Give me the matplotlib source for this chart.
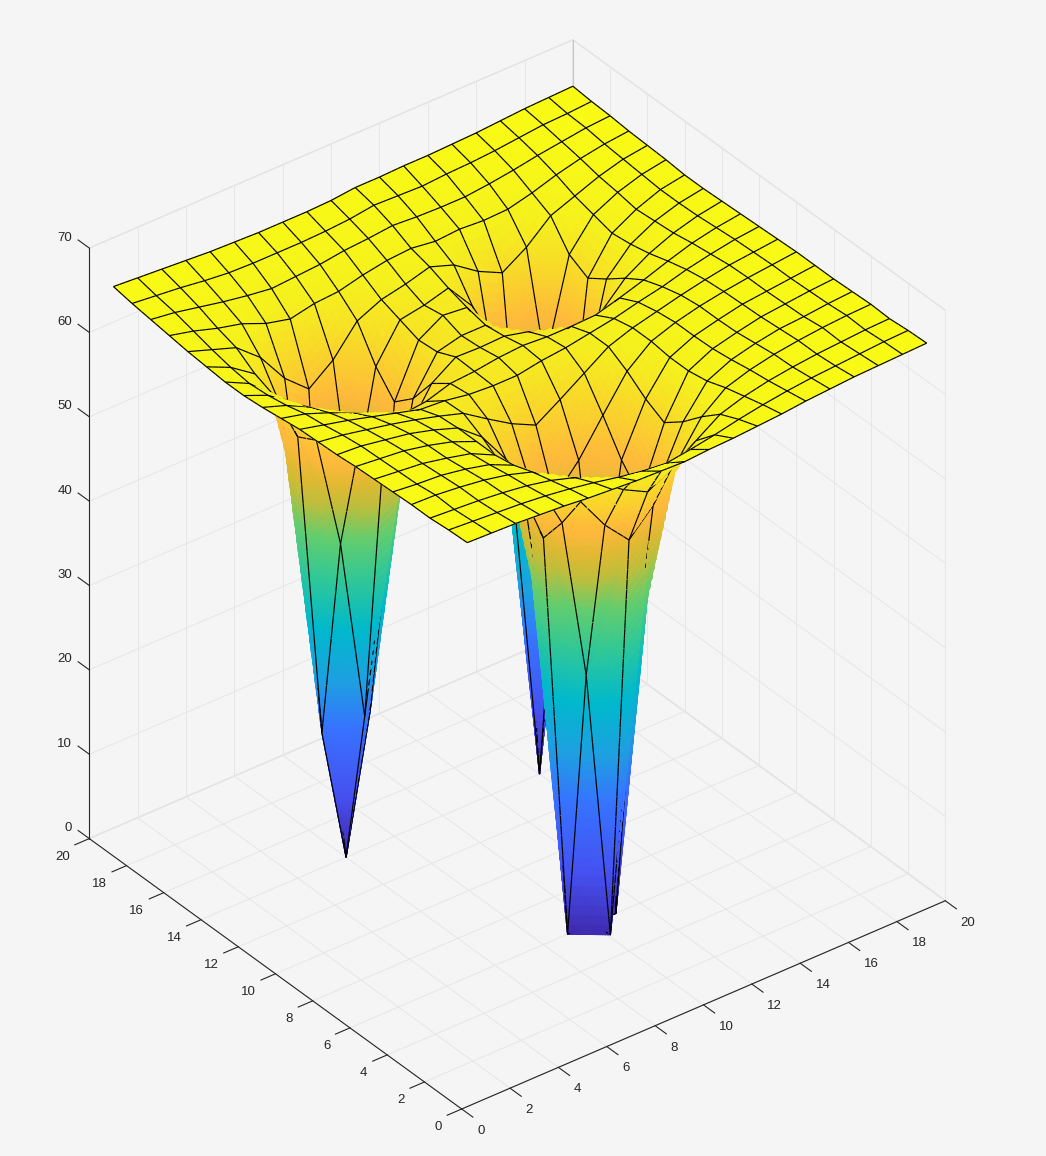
import numpy as np
import matplotlib
matplotlib.use('Agg')
import matplotlib.pyplot as plt
from matplotlib.colors import LinearSegmentedColormap, Normalize
from mpl_toolkits.mplot3d import proj3d
from mpl_toolkits.mplot3d.art3d import Poly3DCollection

# Grid positions
x_vals = list(range(1, 21))
y_vals = list(range(1, 21))

# Heights, one row per y = 1..20, columns x = 1..20
z_rows = [
    [64.3, 64.2, 64.1, 63.9, 63.7, 63.4, 63.2, 63.0, 62.9, 62.8, 63.0, 63.1, 63.3, 63.5, 63.8, 64.0, 64.2, 64.3, 64.4, 64.5],
    [64.2, 64.0, 63.8, 63.6, 63.3, 62.9, 62.4, 61.8, 61.3, 61.0, 61.4, 61.9, 62.5, 63.0, 63.4, 63.7, 63.9, 64.1, 64.3, 64.4],
    [64.0, 63.8, 63.6, 63.3, 62.9, 62.3, 61.4, 59.5, 57.5, 56.0, 57.6, 59.6, 61.5, 62.4, 63.0, 63.4, 63.7, 63.9, 64.1, 64.2],
    [64.0, 63.9, 63.6, 63.2, 62.6, 61.7, 59.5, 55.7, 51.7, 48.7, 51.6, 55.6, 59.6, 61.8, 62.7, 63.3, 63.7, 64.0, 64.2, 64.3],
    [63.9, 63.6, 63.4, 62.9, 62.2, 60.9, 57.3, 51.6, 32.3, 0.3, 32.0, 51.4, 57.4, 61.0, 62.3, 63.0, 63.5, 63.7, 64.0, 64.2],
    [63.8, 63.5, 63.2, 62.6, 61.9, 60.5, 55.6, 48.2, 0.0, 0.0, 0.0, 48.2, 55.7, 60.6, 62.0, 62.7, 63.3, 63.6, 63.9, 64.1],
    [63.7, 63.4, 63.1, 62.5, 61.7, 60.5, 56.7, 50.7, 31.4, 0.0, 31.5, 50.9, 56.9, 60.6, 61.9, 62.6, 63.2, 63.5, 63.8, 64.1],
    [63.5, 63.3, 62.8, 62.3, 61.5, 60.5, 58.2, 54.3, 50.2, 47.3, 50.5, 54.6, 58.6, 60.9, 61.9, 62.6, 63.1, 63.5, 63.8, 64.1],
    [63.4, 63.0, 62.4, 61.8, 61.1, 60.3, 59.4, 57.5, 55.7, 54.3, 56.1, 58.0, 59.9, 60.9, 61.6, 62.3, 62.9, 63.4, 63.7, 64.0],
    [63.3, 62.6, 61.9, 61.1, 60.3, 59.5, 59.3, 58.8, 58.6, 58.6, 59.1, 59.4, 59.9, 60.4, 61.1, 61.7, 62.5, 63.1, 63.6, 63.9],
    [63.0, 62.3, 61.2, 59.9, 58.6, 57.3, 57.6, 58.5, 58.7, 59.1, 59.3, 59.1, 59.1, 59.2, 60.0, 60.9, 61.9, 62.8, 63.4, 63.8],
    [62.7, 61.7, 60.2, 57.4, 53.2, 50.9, 52.5, 56.9, 58.8, 58.7, 58.8, 58.1, 56.0, 55.0, 56.7, 59.5, 61.2, 62.4, 63.2, 63.7],
    [62.5, 61.3, 59.2, 53.5, 40.0, 18.3, 39.0, 53.5, 57.8, 58.5, 58.5, 55.8, 46.0, 32.0, 46.0, 57.8, 60.7, 62.2, 63.1, 63.6],
    [62.5, 61.1, 58.5, 52.3, 16.0, 0.0, 16.2, 51.5, 57.6, 59.3, 59.0, 54.5, 32.0, 0.0, 32.0, 56.3, 60.4, 62.0, 63.1, 63.6],
    [62.7, 61.4, 59.4, 54.8, 39.8, 16.6, 39.3, 54.1, 58.4, 58.9, 59.7, 56.3, 46.0, 32.0, 46.0, 57.5, 61.0, 62.4, 63.3, 63.8],
    [62.9, 61.9, 60.9, 58.5, 54.8, 52.3, 54.5, 57.9, 59.2, 59.8, 60.6, 59.6, 57.6, 56.2, 58.0, 60.5, 61.6, 62.7, 63.5, 63.9],
    [63.2, 62.5, 61.6, 60.9, 59.7, 59.0, 59.6, 59.8, 60.5, 61.0, 61.2, 60.8, 61.0, 60.8, 60.9, 61.6, 62.5, 63.2, 63.7, 64.0],
    [63.5, 63.1, 62.5, 61.9, 61.4, 61.0, 61.2, 61.4, 61.8, 62.0, 62.3, 62.1, 62.0, 62.0, 62.3, 62.7, 63.2, 63.6, 64.0, 64.2],
    [63.8, 63.5, 63.2, 62.8, 62.5, 62.4, 62.4, 62.4, 62.5, 62.7, 63.1, 63.0, 62.9, 63.1, 63.2, 63.4, 63.7, 64.0, 64.1, 64.3],
    [64.2, 64.0, 63.8, 63.6, 63.4, 63.3, 63.2, 63.2, 63.2, 63.3, 63.6, 63.6, 63.7, 63.7, 63.8, 63.9, 64.1, 64.3, 64.4, 64.5],
]

# Tick labels
xy_ticks = [0, 2, 4, 6, 8, 10, 12, 14, 16, 18, 20]
z_ticks = [0, 10, 20, 30, 40, 50, 60, 70]

# Colour against height, as seen on the well walls
color_z = [0, 8, 17, 23, 29.5, 36, 41, 45, 48, 51, 55, 60, 64.5]
color_rgb = ['#3e26a8', '#4650f0', '#3773ff', '#1ea0e1', '#00b9cd', '#32c896', '#64cd6e',
             '#bebe3c', '#e1b932', '#ffb93c', '#fad22d', '#f5f01e', '#f9fb14']

plt.rcParams['font.family'] = ['Liberation Sans', 'DejaVu Sans']
plt.rcParams['font.size'] = 9.5

W, H = 1046, 1156
BG = '#f5f5f5'
INK = '#262626'
GRID = '#e6e6e6'
ELEV, AZIM = 34.0, -127.6
BOX = (1, 1, 1.167)

fig = plt.figure(figsize=(W / 100, H / 100), dpi=100, facecolor=BG)
ax = fig.add_axes([-0.2, -0.1, 1400 / W, 1400 / H], projection='3d', proj_type='ortho')
ax.view_init(elev=ELEV, azim=AZIM)
ax.set_xlim(0, 20)
ax.set_ylim(0, 20)
ax.set_zlim(0, 70)
ax.set_box_aspect(BOX, zoom=1.0)
ax.patch.set_visible(False)


def to_pixels(x, y, z):
    ax.apply_aspect()
    xp, yp, _ = proj3d.proj_transform(x, y, z, ax.get_proj())
    return ax.transData.transform((xp, yp))


# Fit the axes box onto the corners of the box in the picture
width = to_pixels(20, 0, 0)[0] - to_pixels(0, 20, 0)[0]
ax.set_box_aspect(BOX, zoom=(945.3 - 89.3) / width)
p0 = to_pixels(0, 0, 0)
pos = ax.get_position(original=True)
ax.set_position([pos.x0 + (461.7 - p0[0]) / W, pos.y0 + ((H - 1109) - p0[1]) / H, pos.width, pos.height])

cmap = LinearSegmentedColormap.from_list('walls', [(z / color_z[-1], c) for z, c in zip(color_z, color_rgb)], N=512)
norm = Normalize(0, color_z[-1])

Z = np.array(z_rows)
X = np.array(x_vals, dtype=float)
Y = np.array(y_vals, dtype=float)

polys = []
face = []
edge = []

# Cells are cut into small pieces so the colour can run across them.
# Each cell folds along the same diagonal, as two triangles.
for j in range(len(Y) - 1):
    for i in range(len(X) - 1):
        q = Z[j:j + 2, i:i + 2]
        n = int(np.clip(np.ceil((q.max() - q.min()) / 1.2), 4, 40))
        s = np.linspace(0, 1, n + 1)
        u, v = np.meshgrid(s, s)
        zz = np.where(u + v <= 1,
                      q[0, 0] + u * (q[0, 1] - q[0, 0]) + v * (q[1, 0] - q[0, 0]),
                      q[1, 1] + (1 - u) * (q[1, 0] - q[1, 1]) + (1 - v) * (q[0, 1] - q[1, 1]))
        xx = X[i] + u
        yy = Y[j] + v
        for a in range(n):
            for b in range(n):
                p = [(xx[a, b], yy[a, b], zz[a, b]), (xx[a, b + 1], yy[a, b + 1], zz[a, b + 1]),
                     (xx[a + 1, b + 1], yy[a + 1, b + 1], zz[a + 1, b + 1]), (xx[a + 1, b], yy[a + 1, b], zz[a + 1, b])]
                c = cmap(norm(zz[a:a + 2, b:b + 2].mean()))
                polys.append(p)
                face.append(c)
                edge.append(c)

# Mesh lines: moved a little toward the viewer so they sort above their own cells
el = np.radians(ELEV)
az = np.radians(AZIM)
eps = 0.016
off = np.array([np.cos(el) * np.cos(az) * 20, np.cos(el) * np.sin(az) * 20, np.sin(el) * 70 / BOX[2]]) * eps


def add_line(p, q):
    m = int(np.clip(np.ceil(abs(p[2] - q[2]) / 1.2), 4, 40))
    t = np.linspace(0, 1, m + 1)
    pts = np.outer(1 - t, p) + np.outer(t, q) + off
    for k in range(m):
        polys.append([tuple(pts[k]), tuple(pts[k + 1])])
        face.append((0, 0, 0, 1))
        edge.append((0, 0, 0, 1))


for j in range(len(Y)):
    for i in range(len(X)):
        here = np.array([X[i], Y[j], Z[j, i]])
        if i < len(X) - 1:
            add_line(here, np.array([X[i + 1], Y[j], Z[j, i + 1]]))
        if j < len(Y) - 1:
            add_line(here, np.array([X[i], Y[j + 1], Z[j + 1, i]]))

surf = Poly3DCollection(polys, facecolors=face, edgecolors=edge, linewidths=0.85, zsort='average')
ax.add_collection3d(surf)

ax.set_xticks([])
ax.set_yticks([])
ax.set_zticks([])

for axis in (ax.xaxis, ax.yaxis, ax.zaxis):
    axis.set_pane_color((0.96, 0.96, 0.96, 1))
    axis.pane.set_edgecolor('#e0e0e0')
    axis.line.set_visible(False)

# Grid on the floor and the two back walls
for t in xy_ticks:
    ax.plot([t, t], [0, 20], [0, 0], color=GRID, lw=0.7, zorder=1)
    ax.plot([0, 20], [t, t], [0, 0], color=GRID, lw=0.7, zorder=1)
    ax.plot([t, t], [20, 20], [0, 70], color=GRID, lw=0.7, zorder=1)
    ax.plot([20, 20], [t, t], [0, 70], color=GRID, lw=0.7, zorder=1)
for t in z_ticks:
    ax.plot([0, 20], [20, 20], [t, t], color=GRID, lw=0.7, zorder=1)
    ax.plot([20, 20], [0, 20], [t, t], color=GRID, lw=0.7, zorder=1)
ax.plot([20, 20], [20, 20], [0, 70], color='#c8c8c8', lw=0.8, zorder=1.5)

# The three axis lines
ax.plot([0, 20], [0, 0], [0, 0], color=INK, lw=0.8, zorder=2)
ax.plot([0, 0], [0, 20], [0, 0], color=INK, lw=0.8, zorder=2)
ax.plot([0, 0], [20, 20], [0, 70], color=INK, lw=0.8, zorder=2)


def label(x, y, z, text, ha):
    px, py = to_pixels(x, y, z)
    fig.text(px / W, py / H, text, ha=ha, va='center', color=INK)


# Ticks and their labels stand off the axes the way they do in the picture
for t in xy_ticks:
    ax.plot([t, t], [0, -0.6], [0, 0], color=INK, lw=0.8, zorder=2)
    ax.plot([0, -0.6], [t, t], [0, 0], color=INK, lw=0.8, zorder=2)
    label(t - 0.38, -1.325, 0, str(t), 'left')
    label(-1.16, t - 0.45, 0, str(t), 'right')
for t in z_ticks:
    ax.plot([0, 0], [20, 20.6], [t, t], color=INK, lw=0.8, zorder=2)
    label(-0.07, 20.825, t, str(t), 'right')

fig.savefig('out.png', dpi=100, facecolor=BG)
